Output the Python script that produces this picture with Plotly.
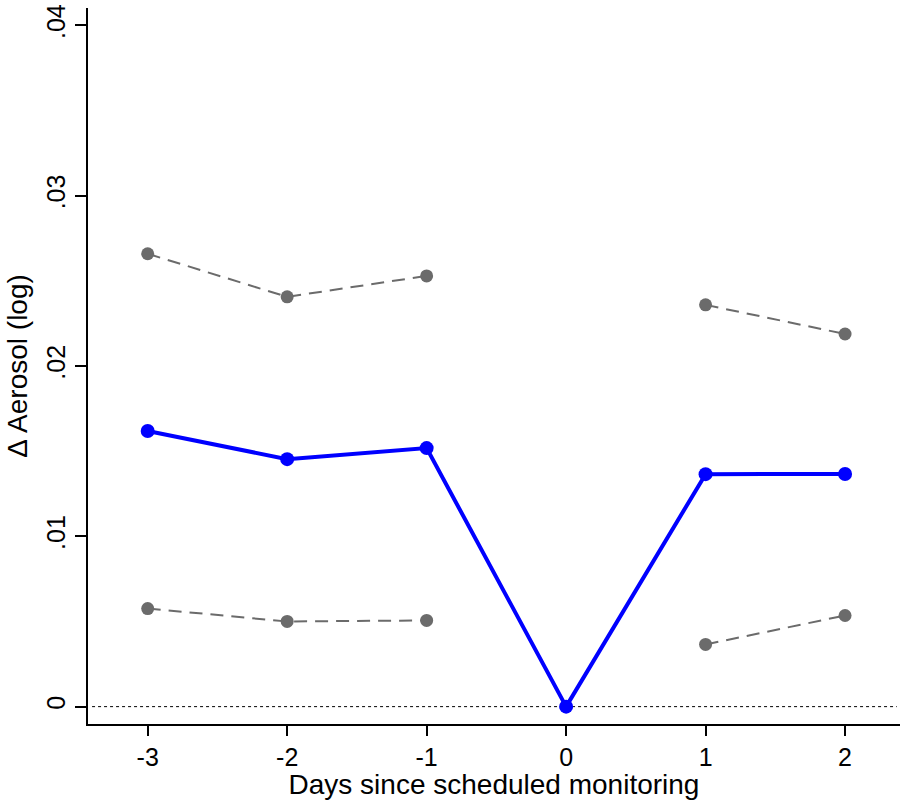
import plotly.graph_objects as go

days = [-3, -2, -1, 0, 1, 2]
estimate = [0.01618, 0.01453, 0.01518, 0.0, 0.01365, 0.01366]
ci_upper = [0.02659, 0.02406, 0.02529, None, 0.02359, 0.02188]
ci_lower = [0.00576, 0.00500, 0.00506, None, 0.00365, 0.00535]
x_ticks = [-3, -2, -1, 0, 1, 2]
x_ticktext = ["-3", "-2", "-1", "0", "1", "2"]
y_tickvals = [0, 0.01, 0.02, 0.03, 0.04]
y_ticktext = ["0", ".01", ".02", ".03", ".04"]

FONT = "Liberation Sans, Arial, sans-serif"
GRAY = "#6b6b6b"

fig = go.Figure()
for ci in (ci_upper, ci_lower):
    fig.add_trace(go.Scatter(
        x=days, y=ci, mode="lines+markers", connectgaps=False,
        line=dict(color=GRAY, width=2, dash="13px,8px"),
        marker=dict(color=GRAY, size=13), showlegend=False, hoverinfo="skip"))
fig.add_trace(go.Scatter(
    x=days, y=estimate, mode="lines+markers",
    line=dict(color="#0000ff", width=4),
    marker=dict(color="#0000ff", size=14), showlegend=False))

fig.add_shape(type="line", xref="paper", yref="y", x0=0.005, x1=0.996, y0=0, y1=0,
              line=dict(color="black", width=1, dash="dot"), layer="below")

fig.update_layout(
    width=900, height=800,
    margin=dict(l=88, r=0, t=8, b=76),
    plot_bgcolor="white", paper_bgcolor="white",
    font=dict(family=FONT, color="black", size=25),
    xaxis=dict(
        range=[-3.428, 2.394], tickvals=x_ticks, ticktext=x_ticktext,
        showgrid=False, zeroline=False,
        showline=True, linecolor="black", linewidth=2,
        ticks="outside", ticklen=10, tickwidth=2, tickcolor="black",
        tickfont=dict(size=25), ticklabeloverflow="allow",
        title=dict(text="Days since scheduled monitoring", font=dict(size=28), standoff=3),
        automargin=False),
    yaxis=dict(
        range=[-0.00102, 0.04102], tickvals=y_tickvals, ticktext=y_ticktext,
        showgrid=False, zeroline=False, tickangle=-90,
        showline=True, linecolor="black", linewidth=2,
        ticks="outside", ticklen=11, tickwidth=2, tickcolor="black",
        tickfont=dict(size=25), ticklabeloverflow="allow",
        title=dict(text="Δ Aerosol (log)", font=dict(size=28), standoff=6),
        automargin=False),
)

fig.write_html("out.html", config={"displayModeBar": False},
               post_script="document.body.style.margin='0';")
